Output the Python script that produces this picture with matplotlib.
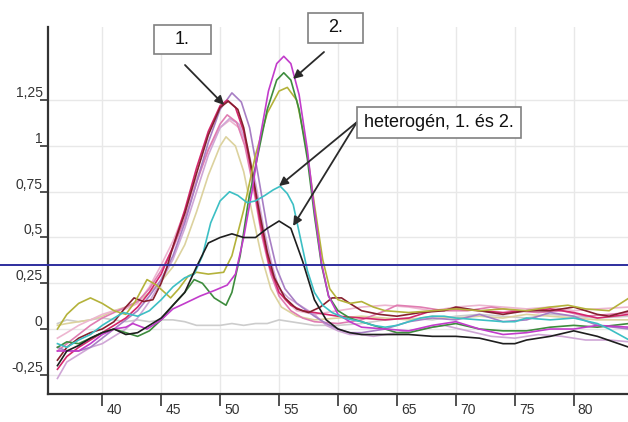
import matplotlib
matplotlib.use("Agg")
import matplotlib.pyplot as plt
from matplotlib.patches import Rectangle
from matplotlib.transforms import ScaledTranslation

plt.rcParams['font.family'] = ['Liberation Sans', 'DejaVu Sans']

# ---------------- data ----------------
x_ticks = [40, 45, 50, 55, 60, 65, 70, 75, 80]
x_tick_labels = ["40", "45", "50", "55", "60", "65", "70", "75", "80"]
y_ticks = [-0.25, 0, 0.25, 0.5, 0.75, 1, 1.25]
y_tick_labels = ["-0,25", "0", "0,25", "0,5", "0,75", "1", "1,25"]
threshold = 0.35

# group 1
maroon_x = [36.2,37,38,39,40,41,42,42.7,43.5,44.3,45,45.5,46,47,48,49,50,50.7,51.5,52,52.6,53.3,54,54.6,55.5,56.5,57.5,58.5,59.5,60.3,61,62,63.5,65,67,69,70,72,74,76,78,80,82,83,84.7]
maroon_y = [-0.17,-0.1,-0.05,-0.02,0.0,0.04,0.12,0.17,0.15,0.16,0.25,0.34,0.45,0.63,0.85,1.06,1.21,1.245,1.2,1.1,0.9,0.65,0.42,0.28,0.17,0.11,0.09,0.12,0.17,0.17,0.14,0.1,0.08,0.07,0.09,0.1,0.12,0.1,0.08,0.1,0.1,0.12,0.08,0.07,0.1]

lavender_x = [36.2,37,38,39,40,41,42,43,44,45,46,47,48,49,50,51,51.8,52.5,53.2,54,54.8,55.5,56.5,58,59,60,61,62,64,66,68,70,72,74,76,78,80,82,84.7]
lavender_y = [-0.1,-0.12,-0.12,-0.1,-0.05,0.0,0.05,0.1,0.18,0.27,0.4,0.58,0.8,1.02,1.2,1.29,1.24,1.1,0.85,0.55,0.33,0.22,0.14,0.07,0.03,0.0,-0.02,-0.02,0.0,0.04,0.06,0.05,0.08,0.04,0.05,0.09,0.07,0.02,0.0]

crimson_x = [36.2,37,38,39,40,41,42,43,44,45,46,47,48,49,50,50.6,51.3,52,52.7,53.4,54.2,55,56,57,58,59,60,62,64,66,68,70,72,74,76,78,80,82,84.7]
crimson_y = [-0.22,-0.15,-0.1,-0.06,-0.02,0.02,0.06,0.12,0.2,0.3,0.45,0.65,0.88,1.08,1.22,1.25,1.21,1.08,0.85,0.58,0.34,0.2,0.13,0.1,0.09,0.08,0.07,0.06,0.05,0.06,0.1,0.11,0.1,0.09,0.1,0.11,0.09,0.06,0.08]

pink_x = [36.2,37,38,39,40,41,42,43,44,45,46,47,48,49,50,50.6,51.4,52.1,52.8,53.5,54.3,55,56,57,58,60,62,64,65,67,69,71,73,75,77,79,81,83,84.7]
pink_y = [-0.12,-0.08,-0.03,0.02,0.06,0.09,0.12,0.15,0.22,0.32,0.44,0.6,0.8,0.98,1.12,1.17,1.13,1.0,0.78,0.52,0.3,0.18,0.1,0.06,0.04,0.03,0.05,0.1,0.13,0.12,0.1,0.1,0.12,0.1,0.09,0.1,0.07,0.08,0.09]

lightpink_x = [36.2,37,38,39,40,41,42,43,44,45,46,47,48,49,50,50.8,51.6,52.3,53,53.7,54.5,55.5,56.5,58,60,62,64,66,68,70,72,74,76,78,80,82,84.7]
lightpink_y = [-0.05,-0.02,0.02,0.05,0.08,0.1,0.11,0.14,0.23,0.35,0.48,0.64,0.82,0.98,1.1,1.14,1.1,0.97,0.75,0.5,0.3,0.16,0.1,0.08,0.1,0.12,0.13,0.12,0.1,0.12,0.13,0.12,0.11,0.12,0.1,0.11,0.12]

mauve_x = [36.2,37,38,39,40,41,42,43,44,45,46,47,48,49,50,50.8,51.6,52.3,53,53.7,54.4,55,55.8,57,58,59,60,61,62,63,65,67,69,71,73,75,77,79,81,83,84.7]
mauve_y = [-0.27,-0.18,-0.14,-0.1,-0.08,-0.04,0.0,0.06,0.15,0.26,0.38,0.55,0.75,0.95,1.1,1.15,1.12,1.0,0.8,0.55,0.35,0.22,0.17,0.12,0.08,0.02,-0.01,-0.03,-0.03,-0.04,-0.02,0.0,0.02,-0.01,-0.04,-0.05,-0.03,-0.04,-0.06,-0.06,-0.07]

khaki_x = [36.2,37,38,39,40,41,42,43,44,45,46,47,48,49,50,50.5,51.3,52,52.7,53.5,54.3,55.2,56.5,58,60,62,64,66,68,70,72,74,76,78,80,82,84.7]
khaki_y = [0.02,0.03,0.04,0.05,0.07,0.1,0.12,0.15,0.2,0.26,0.34,0.46,0.64,0.84,1.0,1.05,1.0,0.86,0.64,0.4,0.22,0.12,0.07,0.05,0.06,0.07,0.06,0.05,0.07,0.06,0.07,0.06,0.08,0.07,0.06,0.05,0.05]

# group 2
olive_x = [36.2,37,38,39,40,41,42,42.8,43.8,44.6,45.8,46.5,47.3,48,49,50.3,51,52,53,54,55,55.7,56.5,57.3,58,58.7,59.3,60,61,62,63,64,66,68,70,72,74,76,78,79.5,81,83,84.7]
olive_y = [0.0,0.08,0.14,0.17,0.14,0.1,0.08,0.15,0.27,0.24,0.17,0.22,0.29,0.31,0.3,0.31,0.4,0.65,0.95,1.18,1.3,1.32,1.25,1.0,0.68,0.38,0.22,0.16,0.14,0.15,0.12,0.1,0.09,0.1,0.11,0.1,0.11,0.1,0.12,0.13,0.11,0.1,0.17]

magenta_x = [36.2,37,38,39,40,41,42,42.6,43.8,45,46,47,48.3,49.5,50.6,51.3,52,52.7,53.4,54.1,54.8,55.4,56,56.7,57.4,58,58.6,59.2,60,61,62,64,66,68,70,72,74,76,78,80,82,84.7]
magenta_y = [-0.12,-0.12,-0.12,-0.08,-0.03,0.0,0.01,0.03,0.0,0.05,0.11,0.14,0.18,0.21,0.24,0.3,0.5,0.75,1.05,1.3,1.45,1.49,1.45,1.28,0.98,0.65,0.36,0.18,0.08,0.04,0.01,0.0,-0.01,0.02,0.04,0.0,-0.03,-0.02,0.0,0.0,0.02,0.01]

green_x = [36.2,37,38,39,40,41,42,43,44,45,46,47,47.8,48.5,49.5,50.5,51,51.7,52.4,53.2,54,54.8,55.4,56,56.7,57.4,58,58.6,59.2,60,61,62,63,64,65,66,68,70,72,74,76,78,80,82,84.7]
green_y = [-0.1,-0.07,-0.08,-0.05,-0.02,0.0,-0.02,-0.04,-0.01,0.05,0.13,0.2,0.27,0.25,0.17,0.13,0.2,0.4,0.7,0.95,1.2,1.36,1.4,1.36,1.2,0.93,0.62,0.35,0.18,0.1,0.06,0.04,0.02,0.0,-0.02,-0.02,0.01,0.03,0.0,-0.01,-0.01,0.01,0.02,0.01,0.03]

# heterozygous
cyan_x = [36.2,37,38,39,40,41,41.8,43,44,45,46,47,47.8,48.5,49.2,50,50.8,51.5,52.3,53,53.8,54.5,55.1,55.7,56.2,56.8,57.4,58,58.7,59.5,60.5,62,63,64,65,66,67,68,69,70,72,74,75,76,78,80,82,83,84.7]
cyan_y = [-0.08,-0.1,-0.06,-0.03,0.02,0.06,0.09,0.07,0.1,0.16,0.23,0.28,0.3,0.4,0.58,0.7,0.75,0.73,0.69,0.7,0.73,0.76,0.78,0.74,0.68,0.5,0.32,0.2,0.13,0.09,0.06,0.04,0.02,0.01,0.02,0.04,0.06,0.07,0.07,0.06,0.05,0.04,0.04,0.06,0.05,0.06,0.03,0.0,-0.06]

black_x = [36.2,37,38,39,40,41,42,43,44,45,46,47,48,49,50,51,52,53,54,55,56,57,58,59,60,61,62,64,66,68,70,72,74,75,76,78,80,82,84.7]
black_y = [-0.2,-0.12,-0.09,-0.05,-0.02,0.0,-0.03,-0.02,0.02,0.06,0.13,0.2,0.34,0.47,0.5,0.52,0.5,0.5,0.55,0.59,0.55,0.37,0.16,0.05,0.0,-0.02,-0.03,-0.03,-0.03,-0.04,-0.04,-0.05,-0.08,-0.08,-0.06,-0.04,-0.01,-0.04,-0.1]

# baseline
gray_x = [36.2,37,38,39,40,41,42,43,44,45,46,47,48,49,50,51,52,53,54,55,56,57,58,60,62,64,66,68,70,72,74,76,78,80,82,84.7]
gray_y = [0.03,0.05,0.04,0.05,0.06,0.05,0.04,0.05,0.04,0.05,0.05,0.04,0.02,0.02,0.02,0.03,0.02,0.03,0.03,0.05,0.04,0.03,0.02,0.02,0.03,0.05,0.06,0.05,0.07,0.08,0.07,0.06,0.08,0.07,0.06,0.07]

series = [
    (gray_x, gray_y, "#CCCCCC"),
    (khaki_x, khaki_y, "#DCD29E"),
    (lightpink_x, lightpink_y, "#EDB6D0"),
    (mauve_x, mauve_y, "#CFA6D6"),
    (pink_x, pink_y, "#E07DB2"),
    (lavender_x, lavender_y, "#A77EC4"),
    (crimson_x, crimson_y, "#D4266C"),
    (maroon_x, maroon_y, "#86202E"),
    (olive_x, olive_y, "#B4B23A"),
    (green_x, green_y, "#3D8C3D"),
    (magenta_x, magenta_y, "#C23CCB"),
    (cyan_x, cyan_y, "#3CBFC4"),
    (black_x, black_y, "#1E1E1E"),
]

# ---------------- figure ----------------
W, H = 628, 422
fig = plt.figure(figsize=(W / 100, H / 100), dpi=100)
ax_left, ax_right, ax_top, ax_bot = 48, 628, 27, 394
ax = fig.add_axes([ax_left / W, 1 - ax_bot / H, (ax_right - ax_left) / W, (ax_bot - ax_top) / H])

ax.set_xlim(35.4, 84.6)
ax.set_ylim(-0.355, 1.65)

ax.grid(True, color="#E8E8E8", lw=1.0)
ax.set_axisbelow(True)

for xs, ys, c in series:
    ax.plot(xs, ys, color=c, lw=1.2, solid_joinstyle="round")

frac_left = ax_left / (ax_right - ax_left)
ax.axhline(threshold, xmin=-frac_left, xmax=1, color="#2E2E9E", lw=1.4, clip_on=False, zorder=5)

for s in ["top", "right"]:
    ax.spines[s].set_visible(False)
for s in ["left", "bottom"]:
    ax.spines[s].set_color("#333333")
    ax.spines[s].set_linewidth(1.6)

ax.set_xticks(x_ticks)
ax.set_xticklabels(x_tick_labels, ha="left", va="top", fontsize=10, color="#333333")
ax.set_yticks(y_ticks)
ax.set_yticklabels(y_tick_labels, va="bottom", ha="right", fontsize=10, color="#333333")
ax.tick_params(axis="x", direction="out", length=8.6, width=1.2, color="#333333", pad=-2.2)
ax.tick_params(axis="y", direction="out", length=5.8, width=1.2, color="#333333", pad=-2.0)
off = ScaledTranslation(0.04, 0, fig.dpi_scale_trans)
for lab in ax.get_xticklabels():
    lab.set_transform(lab.get_transform() + off)

# ---------------- annotation boxes ----------------
def box(x0, y0, x1, y1, text):
    fig.patches.append(Rectangle((x0 / W, 1 - y1 / H), (x1 - x0) / W, (y1 - y0) / H,
                                 transform=fig.transFigure, facecolor="white",
                                 edgecolor="#808080", lw=1.2, zorder=10))
    fig.text((x0 + x1) / 2 / W, 1 - (y0 + y1) / 2 / H, text, ha="center", va="center",
             fontsize=13, color="#111111", zorder=11)

box(154, 25, 211, 54, "1.")
box(308, 13, 363, 43, "2.")
box(357, 107, 521, 138, "heterogén, 1. és 2.")

arrow_kw = dict(arrowstyle="-|>", color="#2A2A2A", lw=1.3, mutation_scale=13, shrinkA=0, shrinkB=0)
def arrow(start_px, tip_data):
    ax.annotate("", xy=tip_data, xycoords="data",
                xytext=(start_px[0] / W, 1 - start_px[1] / H), textcoords="figure fraction",
                arrowprops=arrow_kw, annotation_clip=False, zorder=12)

arrow((185, 65), (50.34, 1.224))
arrow((324, 52), (56.19, 1.366))
arrow((357, 122), (55.0, 0.781))
arrow((357, 122), (56.19, 0.563))

fig.savefig("out.png", dpi=100)
